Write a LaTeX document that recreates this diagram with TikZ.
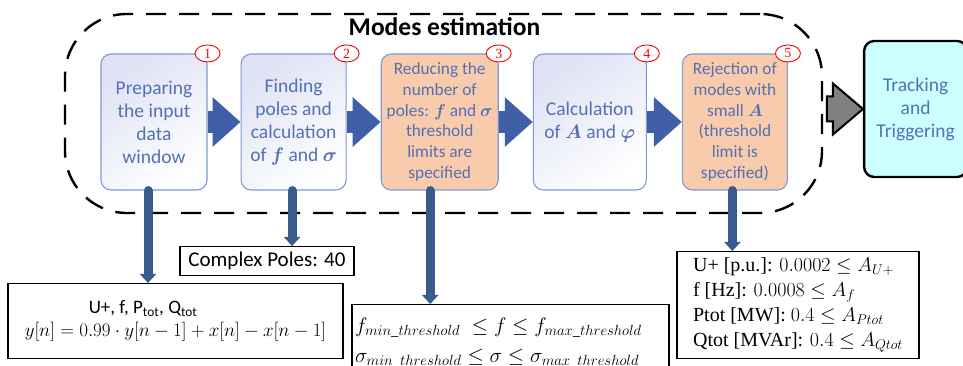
\RequirePackage{fix-cm}
\documentclass[tikz,border=0pt]{standalone}
\usepackage{amsmath}
\usepackage{fontspec}
\setmainfont{Carlito}
\newfontfamily\timesfont{Liberation Serif}
\usetikzlibrary{positioning, arrows.meta, shapes.geometric}

\definecolor{boxtext}{RGB}{84,113,180}
\definecolor{boxline}{RGB}{125,155,210}
\definecolor{lavender}{RGB}{222,226,244}
\definecolor{peach}{RGB}{248,203,173}
\definecolor{cyanfill}{RGB}{204,255,255}
\definecolor{flowblue}{RGB}{63,96,166}
\definecolor{dropblue}{RGB}{58,92,140}
\definecolor{arrowgray}{RGB}{128,128,128}

\begin{document}
\begin{tikzpicture}[
    x=1pt, y=1pt,
    modebox/.style={
        rectangle, rounded corners=10pt,
        draw=boxline, line width=1.1pt,
        top color=lavender, bottom color=white, shading angle=35,
        minimum height=136pt, inner sep=2pt,
        align=center, text=boxtext,
        font=\fontsize{19.5}{23}\selectfont
    },
    orangebox/.style={
        modebox, fill=peach, top color=peach, bottom color=peach,
        font=\fontsize{17.3}{20.7}\selectfont
    },
    trackbox/.style={
        rectangle, rounded corners=10pt,
        draw=black, line width=2.4pt,
        fill=cyanfill,
        minimum height=136pt, minimum width=103pt,
        align=center, text=boxtext,
        font=\fontsize{19.5}{23}\selectfont
    },
    region/.style={
        rectangle, rounded corners=62pt,
        draw=black, line width=2.4pt,
        dash pattern=on 20pt off 13pt
    },
    numring/.style={
        ellipse, draw=red, line width=0.9pt, fill=white,
        minimum width=25pt, minimum height=17pt, inner sep=0pt,
        text=red, font=\timesfont\fontsize{14}{14}\selectfont
    },
    infobox/.style={
        rectangle, draw=black, line width=1.5pt,
        fill=white, anchor=north, inner sep=3pt,
        font=\fontsize{19}{23}\selectfont
    },
    flow/.style={-{Triangle[length=28pt, width=48pt]}, line width=22pt, draw=flowblue},
    drop/.style={-{Triangle[length=9pt, width=16pt]}, line width=9pt, line cap=round, draw=dropblue},
    bigarrow/.style={draw=black, line width=2pt, fill=arrowgray, line join=miter}
]
\useasboundingbox (0,0) rectangle (963,366);

% ============ Estimation frame ============
\node[region, minimum width=757pt, minimum height=199pt] (modes) at (443.5,252.5) {};
\node[font=\bfseries\fontsize{25.5}{28}\selectfont] (title) at ([yshift=-14pt, xshift=1pt]modes.north) {Modes estimation};

% ============ Estimation steps ============
\node[modebox, minimum width=106pt] (prep) at (154,244) {Preparing\\the input\\data\\window};
\node[modebox, minimum width=105pt, right=33pt of prep] (poles) {Finding\\poles and\\calculation\\of $\boldsymbol{f}$ and $\boldsymbol{\sigma}$};
\node[orangebox, minimum width=117pt, right=34pt of poles] (reduce) {Reducing the\\number of\\poles: $\boldsymbol{f}$ and $\boldsymbol{\sigma}$\\threshold\\limits are\\specified};
\node[modebox, minimum width=113pt, right=34pt of reduce] (calc) {Calculation\\of $\boldsymbol{A}$ and $\boldsymbol{\varphi}$};
\node[orangebox, minimum width=105pt, right=35pt of calc] (reject) {Rejection of\\modes with\\small $\boldsymbol{A}$\\(threshold\\limit is\\specified)};
\node[trackbox, right=75pt of reject, yshift=13pt] (track) {Tracking\\and\\Triggering};

% ============ Step numbers ============
\node[numring] (num1) at (prep.north east) {1};
\node[numring] (num2) at (poles.north east) {2};
\node[numring] (num3) at (reduce.north east) {3};
\node[numring] (num4) at (calc.north east) {4};
\node[numring] (num5) at (reject.north east) {5};

% ============ Flow between steps ============
\draw[flow] (prep.east) -- (poles.west);
\draw[flow] (poles.east) -- (reduce.west);
\draw[flow] (reduce.east) -- (calc.west);
\draw[flow] (calc.east) -- (reject.west);
\draw[bigarrow] (track.west) -- ++(-30,25.5) -- ++(0,-13) -- ++(-6,0) -- ++(0,-25) -- ++(6,0) -- ++(0,-13) -- cycle;

% ============ Details ============
\node[infobox, minimum width=335pt, minimum height=75pt, align=left] (inputinfo) at (175.5,83) {%
    \hspace*{64pt}U+, f, P\textsubscript{tot}, Q\textsubscript{tot}\\
    $y[n] = 0.99\cdot y[n-1] + x[n] - x[n-1]$};
\node[infobox, minimum width=174pt, minimum height=29pt, font=\fontsize{21}{24}\selectfont] (poleinfo) at (267,120) {Complex Poles: 40};
\node[infobox, minimum width=317pt, minimum height=76pt, text width=311pt, align=left, font=\fontsize{21}{25}\selectfont] (threshinfo) at (510.5,62) {%
    $f_{min\_threshold} \;\le f \le f_{max\_threshold}$\\[5pt]
    $\sigma_{min\_threshold} \le \sigma \le \sigma_{max\_threshold}$};
\node[infobox, minimum width=242pt, minimum height=107pt, align=left, font=\timesfont\fontsize{20}{25}\selectfont] (ampinfo) at (798,115) {%
    U+ [p.u.]: $0.0002 \le A_{U+}$\\
    f [Hz]: $0.0008 \le A_{f}$\\
    Ptot [MW]: $0.4 \le A_{Ptot}$\\
    Qtot [MVAr]: $0.4 \le A_{Qtot}$};

% ============ Result links ============
\draw[drop] ([xshift=-6pt]prep.south) -- ([xshift=-6pt]prep.south |- inputinfo.north);
\draw[drop] ([xshift=-1.5pt]poles.south) -- ([xshift=-1.5pt]poles.south |- poleinfo.north);
\draw[drop] ([xshift=-9.5pt]reduce.south) -- ([xshift=-9.5pt]reduce.south |- threshinfo.north);
\draw[drop] ([xshift=-2.5pt]reject.south) -- ([xshift=-2.5pt]reject.south |- ampinfo.north);

\end{tikzpicture}
\end{document}
